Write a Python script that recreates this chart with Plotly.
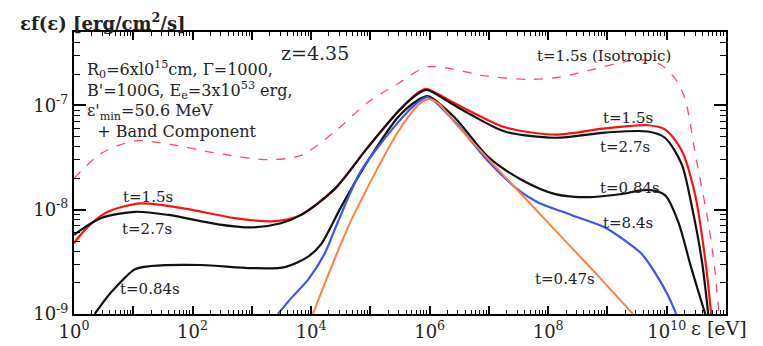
import plotly.graph_objects as go

# log10(energy / eV) and log10(flux)
iso_x = [0.0, 0.46, 1.03, 1.59, 2.43, 3.27, 3.83, 4.40, 4.96, 5.47, 5.97, 6.98, 7.66, 8.17, 8.72, 9.30, 9.63, 9.90, 10.14, 10.31, 10.48, 10.70, 10.81, 10.88]
iso_y = [-7.70, -7.46, -7.34, -7.37, -7.46, -7.52, -7.48, -7.25, -6.97, -6.79, -6.63, -6.72, -6.75, -6.73, -6.66, -6.58, -6.565, -6.61, -6.74, -6.94, -7.46, -8.12, -8.57, -9.0]

t15_x = [0.0, 0.24, 0.57, 1.13, 1.87, 2.71, 3.39, 3.83, 4.40, 4.96, 5.50, 5.80, 5.94, 6.36, 6.70, 7.27, 8.12, 8.96, 9.68, 9.97, 10.25, 10.48, 10.65, 10.75]
t15_y = [-8.32, -8.16, -8.02, -7.94, -7.99, -8.08, -8.11, -8.05, -7.80, -7.40, -7.04, -6.88, -6.84, -6.96, -7.06, -7.21, -7.28, -7.22, -7.19, -7.23, -7.43, -7.86, -8.48, -9.0]

t27_x = [0.0, 0.46, 1.03, 1.59, 2.43, 2.99, 3.49, 3.83, 4.40, 4.96, 5.50, 5.80, 5.95, 6.36, 6.70, 7.27, 8.12, 8.96, 9.68, 9.97, 10.25, 10.41, 10.59, 10.70]
t27_y = [-8.24, -8.08, -8.02, -8.05, -8.14, -8.17, -8.13, -8.05, -7.80, -7.40, -7.04, -6.89, -6.85, -6.98, -7.09, -7.25, -7.31, -7.26, -7.25, -7.31, -7.56, -7.93, -8.48, -9.0]

t084_x = [0.35, 0.63, 1.03, 1.30, 2.15, 2.99, 3.56, 3.95, 4.17, 4.50, 4.96, 5.47, 5.80, 5.97, 6.43, 6.98, 7.54, 8.12, 8.67, 9.23, 9.68, 9.97, 10.19, 10.41, 10.65]
t084_y = [-9.0, -8.79, -8.57, -8.54, -8.53, -8.56, -8.55, -8.45, -8.33, -7.98, -7.53, -7.11, -6.95, -6.91, -7.12, -7.49, -7.71, -7.85, -7.88, -7.85, -7.81, -7.86, -8.11, -8.55, -9.0]

t84_x = [3.44, 3.66, 3.95, 4.23, 4.45, 4.84, 5.47, 5.80, 5.97, 6.43, 6.98, 7.54, 7.83, 8.39, 8.96, 9.23, 9.57, 9.80, 10.02, 10.16]
t84_y = [-9.0, -8.85, -8.67, -8.42, -8.12, -7.63, -7.16, -6.97, -6.92, -7.16, -7.53, -7.83, -7.93, -8.05, -8.17, -8.27, -8.42, -8.60, -8.82, -9.0]

t047_x = [4.03, 4.67, 5.47, 5.80, 5.97, 6.15, 6.43, 8.90, 9.43]
t047_y = [-9.0, -8.11, -7.25, -7.00, -6.94, -6.98, -7.17, -8.67, -9.0]

x_tick_exp = list(range(0, 12))
y_tick_exp = [-9, -8, -7]


def lin(vals):
    return [10 ** v for v in vals]


L, R, T, B = 66, 45, 24, 30
W, H = 763, 346
PW, PH = W - L - R, H - T - B


def px(x, y):
    return (x - L) / PW, (H - B - y) / PH


SERIF = "DejaVu Serif"

fig = go.Figure()

curves = [
    (iso_x, iso_y, "#ff4a6e", 1.3, "dash"),
    (t15_x, t15_y, "#ff1010", 2.2, "solid"),
    (t27_x, t27_y, "#111111", 2.2, "solid"),
    (t084_x, t084_y, "#111111", 2.2, "solid"),
    (t84_x, t84_y, "#3a55f0", 2.2, "solid"),
    (t047_x, t047_y, "#ff7f45", 2.0, "solid"),
]
for xs, ys, col, w, dash in curves:
    fig.add_trace(go.Scatter(
        x=lin(xs), y=lin(ys), mode="lines",
        line=dict(color=col, width=w, dash=dash, shape="spline", smoothing=0.8),
        showlegend=False, hoverinfo="skip",
    ))

x_minor = [k * 10 ** e for e in range(0, 11) for k in range(2, 10)]
y_minor = [k * 10 ** e for e in range(-9, -6) for k in range(2, 10)]

fig.update_xaxes(
    type="log", range=[0, 11],
    tickvals=lin(x_tick_exp),
    ticktext=["10<sup>%d</sup>" % e if e % 2 == 0 and e <= 10 else "" for e in x_tick_exp],
    ticks="inside", ticklen=8, tickwidth=1.5, tickcolor="black",
    minor=dict(tickmode="array", tickvals=x_minor, ticks="inside", ticklen=4, tickwidth=1, tickcolor="black", showgrid=False),
    showline=True, linecolor="black", linewidth=2, mirror="allticks",
    showgrid=False, zeroline=False,
    tickfont=dict(family=SERIF, size=18, color="#222222"),
)
fig.update_yaxes(
    type="log", range=[-9, -6.296],
    tickvals=lin(y_tick_exp),
    ticktext=["10<sup>%d</sup>" % e for e in y_tick_exp],
    ticks="inside", ticklen=12, tickwidth=1.5, tickcolor="black",
    minor=dict(tickmode="array", tickvals=y_minor, ticks="inside", ticklen=6, tickwidth=1, tickcolor="black", showgrid=False),
    showline=True, linecolor="black", linewidth=2, mirror="allticks",
    showgrid=False, zeroline=False,
    tickfont=dict(family=SERIF, size=18, color="#222222"),
)

params = ("R<sub>0</sub>=6xl0<sup>15</sup>cm, Γ=1000,<br>"
          "B'=100G, E<sub>e</sub>=3x10<sup>53</sup> erg,<br>"
          "ε'<sub>min</sub>=50.6 MeV<br>"
          "&nbsp;&nbsp;+ Band Component")

annots = [
    ("<b>εf(ε) [erg/cm<sup>2</sup>/s]</b>", 10, 14, "left", 18),
    ("z=4.35", 307, 46, "center", 19),
    ("t=1.5s (Isotropic)", 596, 49, "center", 15),
    ("t=1.5s", 620, 113, "center", 15),
    ("t=2.7s", 617, 143, "center", 15),
    ("t=0.84s", 622, 186, "center", 15),
    ("t=8.4s", 620, 222, "center", 15),
    ("t=0.47s", 557, 280, "center", 15),
    ("t=1.5s", 140, 195, "center", 15),
    ("t=2.7s", 139, 228, "center", 15),
    ("t=0.84s", 142, 290, "center", 15),
    ("ε [eV]", 681, 331, "left", 19),
]
for text, x, y, anchor, size in annots:
    ax, ay = px(x, y)
    fig.add_annotation(
        text=text, x=ax, y=ay, xref="paper", yref="paper",
        xanchor=anchor, yanchor="middle", showarrow=False,
        font=dict(family=SERIF, size=size, color="#222222"),
    )

ax, ay = px(77, 49)
fig.add_annotation(
    text=params, x=ax, y=ay, xref="paper", yref="paper",
    xanchor="left", yanchor="top", align="left", showarrow=False,
    font=dict(family=SERIF, size=16, color="#222222"),
)

fig.update_layout(
    width=W, height=H,
    margin=dict(l=L, r=R, t=T, b=B),
    paper_bgcolor="white", plot_bgcolor="white",
)

fig.write_html("out.html")
